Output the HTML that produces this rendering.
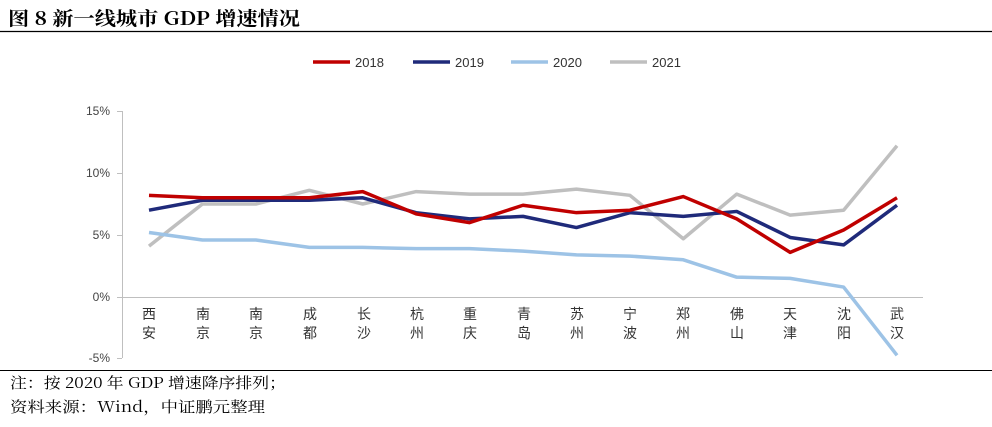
<!DOCTYPE html>
<html><head><meta charset="utf-8"><style>
body{margin:0;background:#fff;width:992px;height:422px;overflow:hidden;font-family:"Liberation Serif","Noto Serif CJK SC",serif}
</style></head><body>
<svg width="992" height="422" xmlns="http://www.w3.org/2000/svg">
<text x="8" y="25" font-size="19" font-weight="bold" font-family="Noto Serif CJK SC, Liberation Serif, serif" textLength="292" lengthAdjust="spacingAndGlyphs">图 8  新一线城市 GDP 增速情况</text>
<line x1="0" y1="31.5" x2="992" y2="31.5" stroke="#000" stroke-width="1.2"/>
<g font-family="Liberation Sans, sans-serif" font-size="13" fill="#333">
<line x1="313" y1="62" x2="350" y2="62" stroke="#c00000" stroke-width="3.5"/><text x="355" y="67">2018</text>
<line x1="413" y1="62" x2="450" y2="62" stroke="#1f2a7a" stroke-width="3.5"/><text x="455" y="67">2019</text>
<line x1="511" y1="62" x2="548" y2="62" stroke="#9dc3e6" stroke-width="3.5"/><text x="553" y="67">2020</text>
<line x1="610" y1="62" x2="647" y2="62" stroke="#bfbfbf" stroke-width="3.5"/><text x="652" y="67">2021</text>
</g>
<g font-family="Liberation Sans, sans-serif" font-size="12" fill="#444" text-anchor="end">
<text x="110" y="115">15%</text><text x="110" y="177">10%</text><text x="110" y="239">5%</text><text x="110" y="301">0%</text><text x="110" y="362">-5%</text>
</g>
<line x1="122.5" y1="111" x2="122.5" y2="358" stroke="#bfbfbf"/>
<g stroke="#bfbfbf"><line x1="117" y1="111.5" x2="122" y2="111.5"/><line x1="117" y1="173.5" x2="122" y2="173.5"/><line x1="117" y1="235.5" x2="122" y2="235.5"/><line x1="117" y1="297.5" x2="122" y2="297.5"/><line x1="117" y1="358.5" x2="122" y2="358.5"/></g>
<line x1="122" y1="297.5" x2="923" y2="297.5" stroke="#bfbfbf"/>
<g font-family="Liberation Sans, Noto Sans CJK SC, sans-serif" font-size="14" fill="#333" text-anchor="middle">
<text x="149" y="319">西</text><text x="149" y="338">安</text>
<text x="203" y="319">南</text><text x="203" y="338">京</text>
<text x="256" y="319">南</text><text x="256" y="338">京</text>
<text x="310" y="319">成</text><text x="310" y="338">都</text>
<text x="364" y="319">长</text><text x="364" y="338">沙</text>
<text x="417" y="319">杭</text><text x="417" y="338">州</text>
<text x="470" y="319">重</text><text x="470" y="338">庆</text>
<text x="524" y="319">青</text><text x="524" y="338">岛</text>
<text x="577" y="319">苏</text><text x="577" y="338">州</text>
<text x="630" y="319">宁</text><text x="630" y="338">波</text>
<text x="683" y="319">郑</text><text x="683" y="338">州</text>
<text x="737" y="319">佛</text><text x="737" y="338">山</text>
<text x="790" y="319">天</text><text x="790" y="338">津</text>
<text x="844" y="319">沈</text><text x="844" y="338">阳</text>
<text x="897" y="319">武</text><text x="897" y="338">汉</text>
</g>
<g transform="translate(149,297) scale(53.43,-12.4)" fill="none" stroke-linejoin="round">
<polyline vector-effect="non-scaling-stroke" stroke="#bfbfbf" stroke-width="3.5" points="0,4.1 1,7.5 2,7.5 3,8.6 4,7.5 5,8.5 6,8.3 7,8.3 8,8.7 9,8.2 10,4.7 11,8.3 12,6.6 13,7.0 14,12.2"/>
<polyline vector-effect="non-scaling-stroke" stroke="#9dc3e6" stroke-width="3.5" points="0,5.2 1,4.6 2,4.6 3,4.0 4,4.0 5,3.9 6,3.9 7,3.7 8,3.4 9,3.3 10,3.0 11,1.6 12,1.5 13,0.8 14,-4.7"/>
<polyline vector-effect="non-scaling-stroke" stroke="#1f2a7a" stroke-width="3.5" points="0,7.0 1,7.8 2,7.8 3,7.8 4,8.0 5,6.8 6,6.3 7,6.5 8,5.6 9,6.8 10,6.5 11,6.9 12,4.8 13,4.2 14,7.4"/>
<polyline vector-effect="non-scaling-stroke" stroke="#c00000" stroke-width="3.5" points="0,8.2 1,8.0 2,8.0 3,8.0 4,8.5 5,6.7 6,6.0 7,7.4 8,6.8 9,7.0 10,8.1 11,6.3 12,3.6 13,5.4 14,8.0"/>
</g>
<line x1="0" y1="370.5" x2="992" y2="370.5" stroke="#000" stroke-width="1"/>
<g font-family="Noto Serif CJK SC, Liberation Serif, serif" font-size="15" fill="#000">
<text x="10" y="388" textLength="276" lengthAdjust="spacingAndGlyphs">注：按 2020 年 GDP 增速降序排列；</text>
<text x="10" y="412" textLength="255" lengthAdjust="spacingAndGlyphs">资料来源：Wind，中证鹏元整理</text>
</g>
</svg>
</body></html>
